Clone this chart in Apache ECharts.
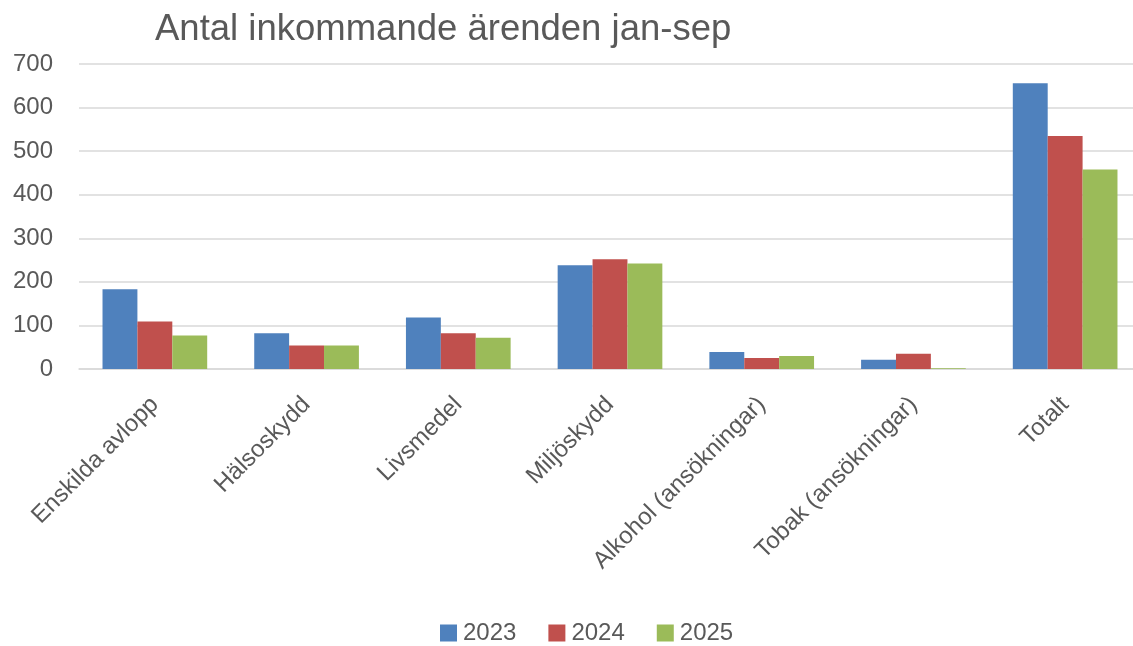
<!DOCTYPE html>
<html><head><meta charset="utf-8">
<script src="https://cdn.jsdelivr.net/npm/echarts@6/dist/echarts.min.js"></script>
<style>html,body{margin:0;padding:0;background:#fff;overflow:hidden}#c{width:1141px;height:646px}</style>
</head><body><div id="c"></div>
<script>
const categories = ["Enskilda avlopp","Hälsoskydd","Livsmedel","Miljöskydd","Alkohol (ansökningar)","Tobak (ansökningar)","Totalt"];
const years = ["2023","2024","2025"];
const values2023 = [183, 82, 118, 238, 39, 21, 656];
const values2024 = [109, 54, 82, 252, 25, 35, 535];
const values2025 = [77, 54, 72, 242, 30, 2, 458];
const yTicks = [0,100,200,300,400,500,600,700];
const colors = ["#4F81BD","#C0504D","#9BBB59"];
const txt = "#595959";
const font = "Liberation Sans";
const chart = echarts.init(document.getElementById('c'));
chart.setOption({
  animation:false,
  color: colors,
  title:{text:"Antal inkommande ärenden jan-sep", left:150, top:6,
    textStyle:{fontFamily:font,fontSize:36.5,fontWeight:'normal',color:txt}},
  legend:{top:616,left:435,itemWidth:17,itemHeight:17,itemGap:32,icon:'rect',
    textStyle:{fontFamily:font,fontSize:24,color:txt,padding:[0,0,0,1]}},
  grid:{left:79,top:64,right:0,height:305,containLabel:false},
  xAxis:{type:'category',data:categories,
    axisLine:{lineStyle:{color:'#D9D9D9',width:1.5}},axisTick:{show:false},
    axisLabel:{rotate:45,interval:0,fontFamily:font,fontSize:24,color:txt,margin:32}},
  yAxis:{type:'value',min:0,max:700,interval:100,
    axisLine:{show:false},axisTick:{show:false},
    splitLine:{lineStyle:{color:'#D9D9D9',width:1.5}},
    axisLabel:{fontFamily:font,fontSize:24,color:txt,margin:26,
      formatter:v=>yTicks.includes(v)?String(v):''}},
  series:[
    {name:years[0],type:'bar',data:values2023,barGap:'0%',barCategoryGap:'31%'},
    {name:years[1],type:'bar',data:values2024,barGap:'0%',barCategoryGap:'31%'},
    {name:years[2],type:'bar',data:values2025,barGap:'0%',barCategoryGap:'31%'}
  ]
});
</script></body></html>
